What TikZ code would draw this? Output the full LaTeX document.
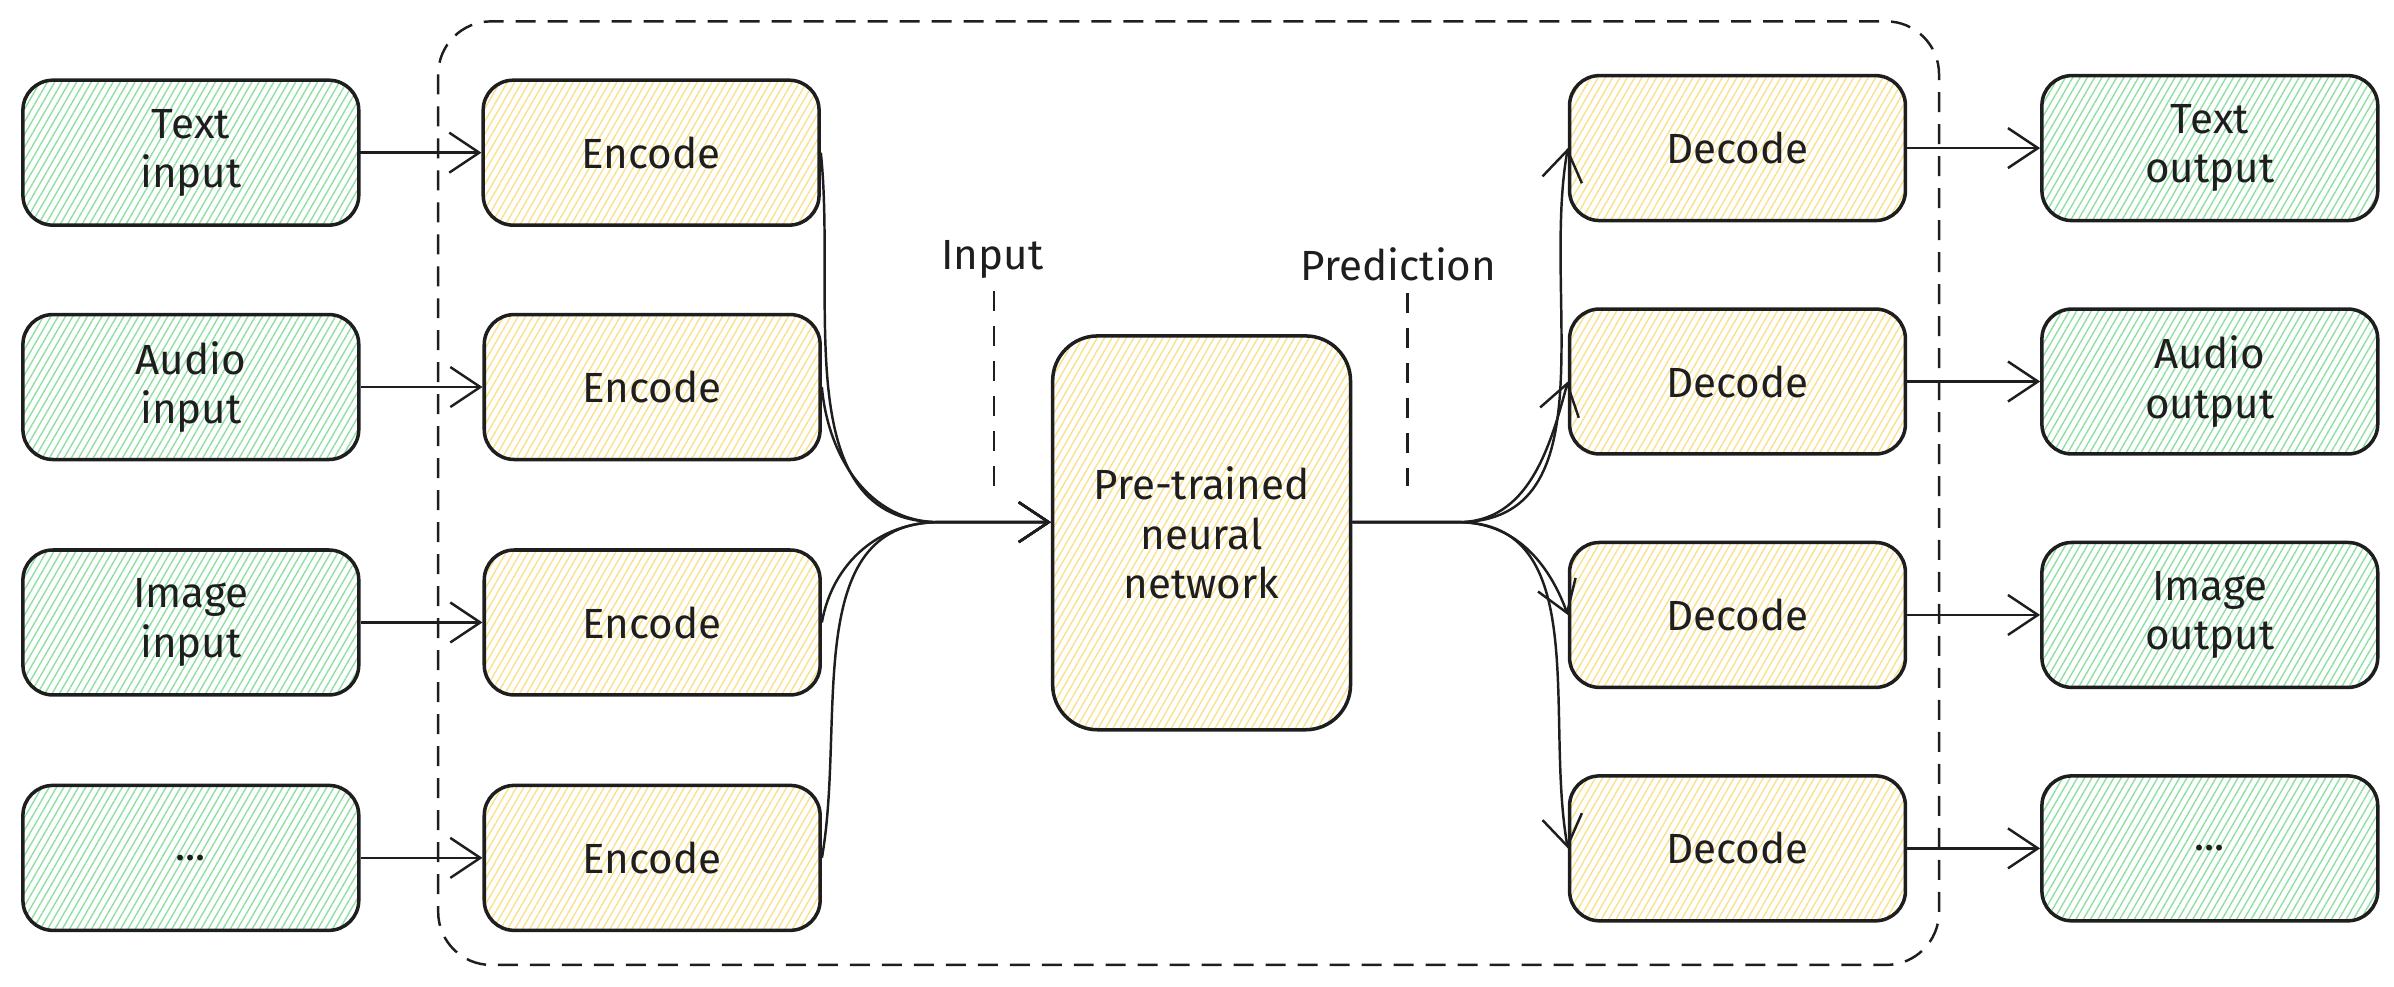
\documentclass[tikz,border=0pt]{standalone}
\usepackage{fontspec}
\setmainfont{Fira Sans}
\usetikzlibrary{positioning,arrows.meta,patterns.meta}

\definecolor{inkblack}{HTML}{1E1E1E}
\definecolor{hatchgreen}{HTML}{8FDFA2}
\definecolor{hatchyellow}{HTML}{F9E08A}

\tikzset{
  box/.style={draw=inkblack, line width=1pt, rounded corners=0.3cm,
              minimum width=3.36cm, minimum height=1.45cm, align=center,
              text=inkblack, font=\fontsize{12}{14}\selectfont},
  iobox/.style={box, pattern={Lines[angle=60,distance=1.8pt,line width=0.4pt]},
                pattern color=hatchgreen},
  codebox/.style={box, pattern={Lines[angle=60,distance=1.8pt,line width=0.4pt]},
                  pattern color=hatchyellow},
  link/.style={draw=inkblack, line width=0.7pt,
               -{Straight Barb[length=3mm,width=4mm,line width=0.7pt]}},
  tag/.style={text=inkblack, font=\fontsize{12}{14}\selectfont},
  guide/.style={draw=inkblack, line width=0.7pt, dash pattern=on 0.2cm off 0.15cm},
  frame/.style={draw=inkblack, line width=0.7pt, rounded corners=0.53cm,
                dash pattern=on 0.2cm off 0.12cm},
}

\begin{document}
\begin{tikzpicture}[x=0.01527cm, y=-0.01527cm]
  \useasboundingbox (0,0) rectangle (1568,646);

  % shared part
  \draw[frame] (287,14) rectangle (1270,632);

  % inputs
  \node[iobox] (txtin) at (125,100) {Text\\input};
  \node[iobox, below=0.87cm of txtin] (audin) {Audio\\input};
  \node[iobox, below=0.87cm of audin] (imgin) {Image\\input};
  \node[iobox, below=0.87cm of imgin] (etcin) {...};

  % encoders
  \node[codebox, right=1.22cm of txtin] (enc1) {Encode};
  \node[codebox, right=1.22cm of audin] (enc2) {Encode};
  \node[codebox, right=1.22cm of imgin] (enc3) {Encode};
  \node[codebox, right=1.22cm of etcin] (enc4) {Encode};

  % network
  \node[codebox, rounded corners=0.45cm, minimum width=2.98cm, minimum height=3.94cm]
    (net) at (787,349) {Pre-trained\\neural\\network};

  % decoders
  \node[codebox] (dec1) at (1138,97) {Decode};
  \node[codebox, below=0.85cm of dec1] (dec2) {Decode};
  \node[codebox, below=0.85cm of dec2] (dec3) {Decode};
  \node[codebox, below=0.85cm of dec3] (dec4) {Decode};

  % outputs
  \node[iobox, right=1.33cm of dec1] (txtout) {Text\\output};
  \node[iobox, right=1.33cm of dec2] (audout) {Audio\\output};
  \node[iobox, right=1.33cm of dec3] (imgout) {Image\\output};
  \node[iobox, right=1.33cm of dec4] (etcout) {...};

  \coordinate (merge) at (615,342);
  \coordinate (split) at (955,342);

  % in -> encode
  \draw[link] (txtin) -- (enc1);
  \draw[link] (audin) -- (enc2);
  \draw[link] (imgin) -- (enc3);
  \draw[link] (etcin) -- (enc4);

  % encode -> network
  \draw[link] (enc1.east) to[out=-84,in=180] (merge) -- (merge -| net.west);
  \draw[link] (enc2.east) to[out=-85,in=180] (merge) -- (merge -| net.west);
  \draw[link] (enc3.east) to[out=80,in=180] (merge) -- (merge -| net.west);
  \draw[link] (enc4.east) to[out=80,in=180] (merge) -- (merge -| net.west);

  % network -> decode
  \draw[link] (split -| net.east) -- (split) to[out=0,in=-100] (dec1.west);
  \draw[link] (split -| net.east) -- (split) to[out=0,in=-105] (dec2.west);
  \draw[link] (split -| net.east) -- (split) to[out=0,in=110] (dec3.west);
  \draw[link] (split -| net.east) -- (split) to[out=0,in=100] (dec4.west);

  % decode -> out
  \draw[link] (dec1) -- (txtout);
  \draw[link] (dec2) -- (audout);
  \draw[link] (dec3) -- (imgout);
  \draw[link] (dec4) -- (etcout);

  % labels
  \node[tag] (inlbl) at (650,170) {Input};
  \node[tag] (predlbl) at (916,173) {Prediction};
  \coordinate (inend) at (651,318);
  \coordinate (predend) at (922,318);
  \draw[guide] (inlbl.south -| inend) -- (inend);
  \draw[guide] (predlbl.south -| predend) -- (predend);
\end{tikzpicture}
\end{document}
